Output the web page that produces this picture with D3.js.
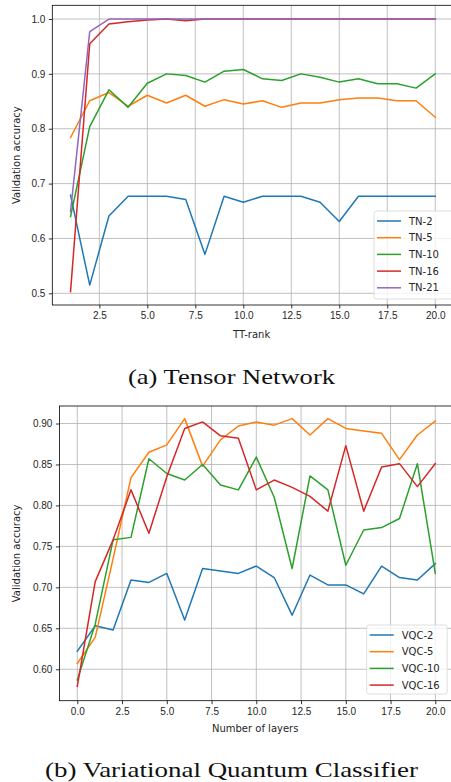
<!DOCTYPE html>
<html lang="en">
<head>
    <meta charset="UTF-8">
    <title>Validation accuracy</title>
    <style>
        body { margin: 0; background: #fff; }
        svg { display: block; font-family: "DejaVu Sans", sans-serif; }
        .tick text { font-size: 10px; fill: #262626; }
        .grid line { stroke: #b0b0b0; stroke-width: 0.8; }
        .caption { font-family: "Liberation Serif", serif; font-size: 21px; fill: #111; }
    </style>
</head>
<body>
<svg width="451" height="782"></svg>
<script src="https://d3js.org/d3.v7.min.js"></script>
<script>
    // ---- data: tensor network (x = TT-rank 1..20)
    const ttRank = d3.range(1, 21);
    const tn2  = [0.679, 0.515, 0.641, 0.677, 0.677, 0.677, 0.671, 0.571, 0.677, 0.666,
                  0.677, 0.677, 0.677, 0.666, 0.631, 0.677, 0.677, 0.677, 0.677, 0.677];
    const tn5  = [0.784, 0.851, 0.866, 0.841, 0.861, 0.847, 0.861, 0.841, 0.853, 0.845,
                  0.851, 0.839, 0.847, 0.847, 0.853, 0.856, 0.856, 0.851, 0.851, 0.821];
    const tn10 = [0.640, 0.804, 0.871, 0.839, 0.883, 0.900, 0.897, 0.885, 0.905, 0.908,
                  0.891, 0.888, 0.900, 0.894, 0.885, 0.891, 0.882, 0.882, 0.874, 0.900];
    const tn16 = [0.503, 0.955, 0.991, 0.995, 0.998, 1.000, 0.997, 1.000, 1.000, 1.000,
                  1.000, 1.000, 1.000, 1.000, 1.000, 1.000, 1.000, 1.000, 1.000, 1.000];
    const tn21 = [0.649, 0.977, 1.000, 1.000, 1.000, 1.000, 1.000, 1.000, 1.000, 1.000,
                  1.000, 1.000, 1.000, 1.000, 1.000, 1.000, 1.000, 1.000, 1.000, 1.000];
    const tnNames = ["TN-2", "TN-5", "TN-10", "TN-16", "TN-21"];

    // ---- data: variational quantum classifier (x = layers 0..20)
    const layers = d3.range(0, 21);
    const vqc2  = [0.622, 0.653, 0.648, 0.709, 0.706, 0.717, 0.660, 0.723, 0.720, 0.717, 0.726,
                   0.712, 0.666, 0.715, 0.703, 0.703, 0.692, 0.726, 0.712, 0.709, 0.729];
    const vqc5  = [0.607, 0.639, 0.735, 0.834, 0.865, 0.874, 0.906, 0.848, 0.880, 0.897, 0.902,
                   0.898, 0.906, 0.886, 0.906, 0.894, 0.891, 0.888, 0.856, 0.886, 0.903];
    const vqc10 = [0.587, 0.655, 0.758, 0.761, 0.857, 0.839, 0.831, 0.850, 0.825, 0.819, 0.859,
                   0.810, 0.723, 0.836, 0.819, 0.727, 0.770, 0.773, 0.784, 0.851, 0.717];
    const vqc16 = [0.579, 0.707, 0.758, 0.819, 0.766, 0.835, 0.894, 0.902, 0.885, 0.882, 0.819,
                   0.831, 0.822, 0.811, 0.793, 0.873, 0.793, 0.847, 0.851, 0.823, 0.851];
    const vqcNames = ["VQC-2", "VQC-5", "VQC-10", "VQC-16"];

    const colors = ["#1f77b4", "#ff7f0e", "#2ca02c", "#d62728", "#9467bd"];

    const svg = d3.select("svg");

    function drawPanel(opt) {
        const g = svg.append("g");
        const x = d3.scaleLinear().domain(opt.xDomain).range([opt.left, opt.right]);
        const y = d3.scaleLinear().domain(opt.yDomain).range([opt.bottom, opt.top]);

        // grid
        g.append("g").attr("class", "grid")
            .selectAll("line").data(opt.xTicks).join("line")
            .attr("x1", d => x(d)).attr("x2", d => x(d))
            .attr("y1", opt.top).attr("y2", opt.bottom);
        g.append("g").attr("class", "grid")
            .selectAll("line").data(opt.yTicks).join("line")
            .attr("y1", d => y(d)).attr("y2", d => y(d))
            .attr("x1", opt.left).attr("x2", opt.right);

        // lines
        const line = d3.line().x(d => x(d[0])).y(d => y(d[1]));
        opt.series.forEach((s, i) => {
            g.append("path")
                .datum(opt.xs.map((v, j) => [v, s[j]]))
                .attr("d", line)
                .attr("fill", "none")
                .attr("stroke", colors[i])
                .attr("stroke-width", 1.5)
                .attr("stroke-linejoin", "round")
                .attr("stroke-linecap", "square");
        });

        // axes
        const xAxis = g.append("g")
            .attr("transform", `translate(0,${opt.bottom})`)
            .call(d3.axisBottom(x).tickValues(opt.xTicks).tickFormat(d3.format(".1f"))
                .tickSize(3.5).tickPadding(3.5));
        const yAxis = g.append("g")
            .attr("transform", `translate(${opt.left},0)`)
            .call(d3.axisLeft(y).tickValues(opt.yTicks).tickFormat(d3.format(opt.yFmt))
                .tickSize(3.5).tickPadding(3.5));
        [xAxis, yAxis].forEach(a => {
            a.select(".domain").remove();
            a.selectAll(".tick line").attr("stroke", "#000").attr("stroke-width", 0.8);
        });

        // frame
        g.append("rect")
            .attr("x", opt.left).attr("y", opt.top)
            .attr("width", opt.right - opt.left).attr("height", opt.bottom - opt.top)
            .attr("fill", "none").attr("stroke", "#000").attr("stroke-width", 0.8);

        // labels
        g.append("text")
            .attr("x", (opt.left + 451) / 2).attr("y", opt.xLabelY)
            .attr("text-anchor", "middle").attr("font-size", 10).attr("fill", "#262626")
            .text(opt.xLabel);
        g.append("text")
            .attr("transform", `translate(${opt.yLabelX},${(opt.top + opt.bottom) / 2}) rotate(-90)`)
            .attr("text-anchor", "middle").attr("font-size", 10).attr("fill", "#262626")
            .text("Validation accuracy");

        // legend
        const lg = g.append("g");
        lg.append("rect")
            .attr("x", opt.legend.x).attr("y", opt.legend.y)
            .attr("width", opt.legend.w).attr("height", opt.legend.h)
            .attr("rx", 2.5)
            .attr("fill", "#fff").attr("fill-opacity", 0.8)
            .attr("stroke", "#d5d5d5").attr("stroke-width", 0.8);
        opt.names.forEach((n, i) => {
            const yy = opt.legend.y0 + i * 16.7;
            lg.append("line")
                .attr("x1", opt.legend.x + 3).attr("x2", opt.legend.x + 27)
                .attr("y1", yy).attr("y2", yy)
                .attr("stroke", colors[i]).attr("stroke-width", 1.5);
            lg.append("text")
                .attr("x", opt.legend.x + 35).attr("y", yy + 3.6)
                .attr("font-size", 10).attr("fill", "#262626")
                .text(n);
        });

        // caption, stretched to the width of the original serif caption
        svg.append("text").attr("class", "caption")
            .attr("x", 231.5 - opt.captionW / 2).attr("y", opt.captionY)
            .attr("textLength", opt.captionW)
            .attr("lengthAdjust", "spacingAndGlyphs")
            .text(opt.caption);
    }

    drawPanel({
        xs: ttRank,
        series: [tn2, tn5, tn10, tn16, tn21],
        names: tnNames,
        xDomain: [0.05, 20.95], yDomain: [0.4787, 1.025],
        left: 52.3, right: 453.5, top: 5.3, bottom: 305,
        xTicks: [2.5, 5, 7.5, 10, 12.5, 15, 17.5, 20],
        yTicks: [0.5, 0.6, 0.7, 0.8, 0.9, 1.0], yFmt: ".1f",
        xLabel: "TT-rank", xLabelY: 338, yLabelX: 20,
        legend: {x: 374, y: 211, w: 84, h: 88, y0: 221},
        caption: "(a) Tensor Network", captionY: 383.5, captionW: 207
    });

    drawPanel({
        xs: layers,
        series: [vqc2, vqc5, vqc10, vqc16],
        names: vqcNames,
        xDomain: [-1, 21], yDomain: [0.5616, 0.9214],
        left: 59.4, right: 453.2, top: 406, bottom: 700.7,
        xTicks: [0, 2.5, 5, 7.5, 10, 12.5, 15, 17.5, 20],
        yTicks: [0.60, 0.65, 0.70, 0.75, 0.80, 0.85, 0.90], yFmt: ".2f",
        xLabel: "Number of layers", xLabelY: 732, yLabelX: 20,
        legend: {x: 366.7, y: 625, w: 80.5, h: 69, y0: 635},
        caption: "(b) Variational Quantum Classifier", captionY: 777, captionW: 373
    });
</script>
</body>
</html>
